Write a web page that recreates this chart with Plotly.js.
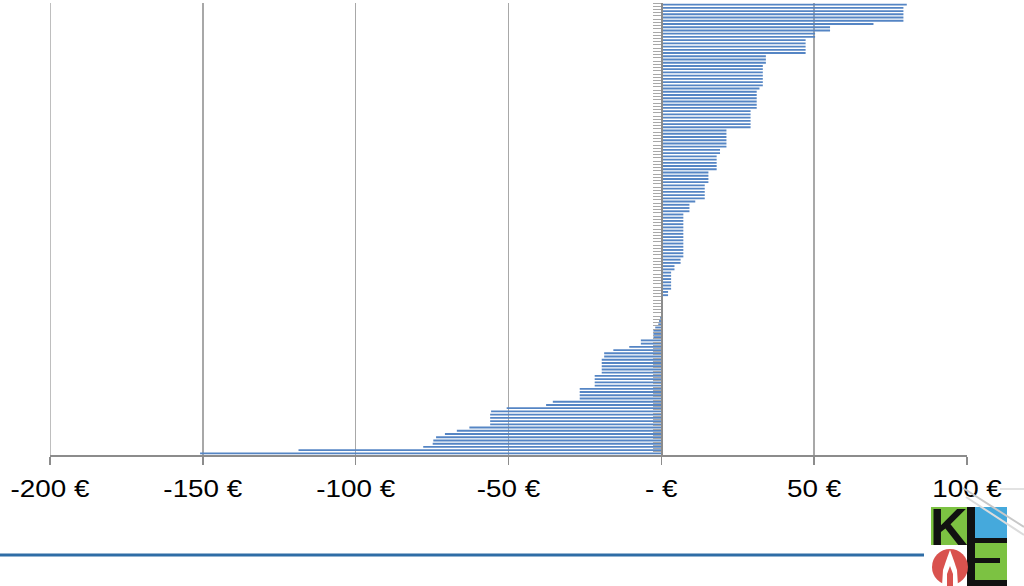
<!DOCTYPE html>
<html>
<head>
<meta charset="utf-8">
<script src="https://cdn.plot.ly/plotly-3.0.1.min.js"></script>
<style>
html,body{margin:0;padding:0;background:#fff;}
#chart{width:1024px;height:586px;}
</style>
</head>
<body>
<div id="chart"></div>
<script>
// Values per category, top row first (euro)
const values = [
  80.3, 79.2, 79.2, 79.2, 79.2, 79.2, 69.4, 55.2, 55.2, 50.3,
  50.3, 47.2, 47.2, 47.2, 47.2, 47.2, 34.2, 34.2, 34.2, 33.2,
  33.2, 33.2, 33.2, 33.2, 33.2, 33.2, 32.1, 31.2, 31.2, 31.2,
  31.2, 31.2, 31.2, 29.2, 29.2, 29.2, 29.2, 29.2, 29.2, 21.3,
  21.3, 21.3, 21.3, 21.3, 21.3, 19.2, 19.2, 18.1, 18.1, 18.1,
  18.1, 18.1, 15.4, 15.4, 15.4, 15.4, 14.2, 14.2, 14.2, 14.2,
  14.2, 11.1, 9.2, 9.2, 9.2, 7.2, 7.2, 7.2, 7.2, 7.2,
  7.2, 7.2, 7.2, 7.2, 7.2, 7.2, 7.2, 7.2, 7.2, 6.3,
  6.3, 4.3, 4.3, 3.2, 3.2, 3.2, 3.2, 3.2, 3.2, 2.2,
  2.2, 0, 0, 0, 0, 0, 0, -0.4, -0.75, -1.0,
  -2.0, -2.6, -2.6, -2.6, -6.7, -6.7, -10.5, -15.7, -18.7, -18.7,
  -19.5, -19.5, -19.5, -19.5, -19.5, -21.8, -21.8, -21.8, -21.8, -26.7,
  -26.7, -26.7, -26.7, -35.5, -37.7, -50.6, -55.7, -56, -56, -56,
  -56, -62.8, -66.9, -70.8, -73.7, -74.6, -74.8, -77.9, -118.7, -150.9
];
const categories = values.map((v, i) => 'P' + (i + 1));
const tickValues = [-200, -150, -100, -50, 0, 50, 100];
const tickLabels = ['-200 €', '-150 €', '-100 €', '-50 €', '- €', '50 €', '100 €'];

// pixel -> paper helpers for decorations
const L = 50, R = 967, T = 3, B = 455;
const px = x => (x - L) / (R - L);
const py = y => (B - y) / (B - T);
function rect(x0, y0, x1, y1, color) {
  return {type: 'rect', xref: 'paper', yref: 'paper', x0: px(x0), x1: px(x1), y0: py(y1), y1: py(y0),
          fillcolor: color, line: {width: 0}, layer: 'above'};
}
function line(x0, y0, x1, y1, color, w) {
  return {type: 'line', xref: 'paper', yref: 'paper', x0: px(x0), x1: px(x1), y0: py(y0), y1: py(y1),
          line: {color: color, width: w}, layer: 'above'};
}
function pathPx(pts, color) {
  const d = pts.map((p, i) => (i ? 'L' : 'M') + px(p[0]).toFixed(5) + ',' + py(p[1]).toFixed(5)).join(' ') + ' Z';
  return {type: 'path', xref: 'paper', yref: 'paper', path: d, fillcolor: color, line: {width: 0}, layer: 'above'};
}

const shapes = [
  // gridline at the left edge (-200)
  {type: 'line', xref: 'x', yref: 'paper', x0: -200, x1: -200, y0: 0, y1: 1,
   line: {color: '#a8a8a8', width: 1.5}, layer: 'below'},
  line(0, 555, 924, 555, '#2e6da6', 3),
  // logo
  rect(931, 507, 967, 545, '#7cc242'),
  rect(975, 507, 1007, 538, '#45a9dc'),
  rect(975, 543, 1007, 586, '#7cc242'),
  rect(967, 507, 975, 586, '#111111'),
  rect(967, 538, 1007, 543, '#111111'),
  rect(975, 558, 1000, 563, '#111111'),
  rect(975, 580, 1007, 586, '#111111'),
  {type: 'circle', xref: 'paper', yref: 'paper', x0: px(932), x1: px(968), y0: py(585), y1: py(549),
   fillcolor: '#d9524e', line: {width: 0}, layer: 'above'},
  pathPx([[950, 550], [954, 561], [957, 570], [958, 586], [942, 586], [943, 570], [946, 561]], '#ffffff'),
  pathPx([[950, 566], [953, 574], [953, 586], [947, 586], [947, 574]], '#d9524e'),
  line(963, 488, 1024, 527, '#c8c8c8', 2),
  line(966, 497, 1024, 535, '#dcdcdc', 2),
  line(1000, 489, 1024, 489, '#d8d8d8', 1.5)
];

const trace = {
  type: 'bar',
  orientation: 'h',
  x: values,
  y: categories,
  marker: {color: '#5585c4', line: {width: 0}},
  hoverinfo: 'x'
};

const layout = {
  width: 1024,
  height: 586,
  margin: {l: L, r: 1024 - R, t: T, b: 586 - B, pad: 0},
  paper_bgcolor: '#ffffff',
  plot_bgcolor: '#ffffff',
  showlegend: false,
  bargap: 0.42,
  font: {family: 'Liberation Sans, Arial, sans-serif', color: '#000000'},
  xaxis: {
    range: [-200, 100],
    tickmode: 'array',
    tickvals: tickValues,
    ticktext: tickLabels,
    showgrid: true,
    gridcolor: '#a8a8a8',
    gridwidth: 1.5,
    zeroline: false,
    showline: true,
    linecolor: '#8c8c8c',
    linewidth: 1.5,
    ticks: 'outside',
    ticklen: 8,
    tickwidth: 1.5,
    tickcolor: '#8c8c8c',
    ticklabelstandoff: 4,
    tickfont: {size: 24, family: 'Liberation Sans, Arial, sans-serif', color: '#000000'},
    fixedrange: true
  },
  yaxis: {
    type: 'category',
    categoryorder: 'array',
    categoryarray: categories,
    autorange: 'reversed',
    anchor: 'free',
    position: px(661.3),
    side: 'left',
    showgrid: false,
    zeroline: false,
    showline: true,
    linecolor: '#8c8c8c',
    linewidth: 1.5,
    tickmode: 'linear',
    tick0: 0,
    dtick: 1,
    ticks: 'outside',
    tickson: 'boundaries',
    ticklen: 8,
    tickwidth: 1,
    tickcolor: '#a8a8a8',
    showticklabels: false,
    fixedrange: true
  },
  shapes: shapes,
  annotations: [
    {xref: 'paper', yref: 'paper', x: px(949), y: py(527), text: '<b>K</b>', showarrow: false,
     font: {family: 'Liberation Sans, Arial, sans-serif', size: 52, color: '#111111'},
     xanchor: 'center', yanchor: 'middle'}
  ]
};

Plotly.newPlot('chart', [trace], layout, {displayModeBar: false, staticPlot: true}).then(gd => {
  // the reference tick labels are slightly stretched horizontally
  gd.querySelectorAll('.xtick text').forEach(t => {
    const tr = t.getAttribute('transform') || '';
    if (tr.indexOf('scale') < 0) t.setAttribute('transform', tr + ' scale(1.16,1)');
  });
});
</script>
</body>
</html>
